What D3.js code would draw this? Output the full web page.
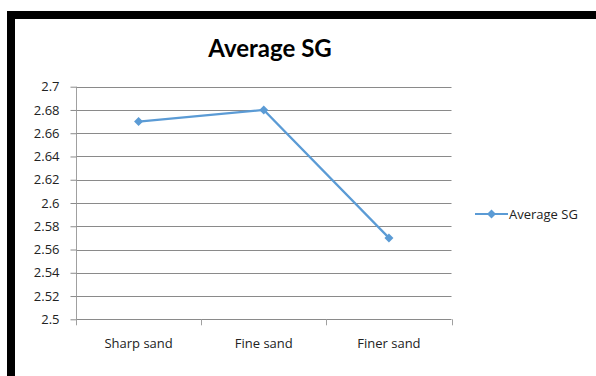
<!DOCTYPE html>
<html>
<head>
<meta charset="utf-8">
<script src="https://cdn.jsdelivr.net/npm/d3@7"></script>
<style>
  html, body { margin: 0; padding: 0; background: #fff; }
  svg { display: block; }
  text { font-family: "Open Sans", Lato, sans-serif; }
</style>
</head>
<body>
<svg id="chart" width="596" height="376"></svg>
<script>
// Chart data
const categories = ["Sharp sand", "Fine sand", "Finer sand"];
const seriesName = "Average SG";
const values = [2.67, 2.68, 2.57];
const yTicks = [2.5, 2.52, 2.54, 2.56, 2.58, 2.6, 2.62, 2.64, 2.66, 2.68, 2.7];

const svg = d3.select("#chart");
const W = 596, H = 376;
const plot = { left: 76, right: 451.5, top: 86.7, bottom: 319.3 };
const blue = "#5b9bd5";
const gridColor = "#8a8a8a";
const labelFont = "13px";

// Black frame on top and left
svg.append("rect").attr("x", 7).attr("y", 11).attr("width", W - 7).attr("height", 8).attr("fill", "#000");
svg.append("rect").attr("x", 7).attr("y", 11).attr("width", 8).attr("height", H - 11).attr("fill", "#000");

const x = d3.scaleBand().domain(categories).range([plot.left, plot.right]);
const y = d3.scaleLinear().domain([2.5, 2.7]).range([plot.bottom, plot.top]);

// Horizontal gridlines
svg.append("g")
  .selectAll("line")
  .data(yTicks)
  .join("line")
  .attr("x1", plot.left)
  .attr("x2", plot.right)
  .attr("y1", d => Math.round(y(d)) + 0.5)
  .attr("y2", d => Math.round(y(d)) + 0.5)
  .attr("stroke", gridColor)
  .attr("stroke-width", 1);

// Y axis
svg.append("g")
  .attr("transform", `translate(${plot.left + 0.5},0)`)
  .call(d3.axisLeft(y).tickValues(yTicks).tickSize(6).tickFormat(d3.format("")))
  .call(g => g.select(".domain").attr("stroke", "#a0a0a0").attr("d", `M0,${plot.top}V${plot.bottom}`))
  .call(g => g.selectAll(".tick line").attr("stroke", gridColor))
  .call(g => g.selectAll(".tick text")
    .attr("x", -17)
    .attr("fill", "#222")
    .style("font-size", labelFont)
    .style("font-family", "'Open Sans', Lato, sans-serif"));

// X axis
svg.append("g")
  .attr("transform", `translate(0,${Math.round(plot.bottom) + 0.5})`)
  .call(d3.axisBottom(x).tickSize(0).tickPadding(19))
  .call(g => g.select(".domain").remove())
  .call(g => g.selectAll(".tick text")
    .attr("fill", "#222")
    .style("font-size", labelFont)
    .style("font-family", "'Open Sans', Lato, sans-serif"));

// Category separator ticks
const edges = categories.map(c => x(c)).concat([x(categories[categories.length - 1]) + x.bandwidth()]);
svg.append("g")
  .selectAll("line")
  .data(edges)
  .join("line")
  .attr("x1", d => Math.round(d) + 0.5)
  .attr("x2", d => Math.round(d) + 0.5)
  .attr("y1", plot.bottom)
  .attr("y2", plot.bottom + 6)
  .attr("stroke", "#a0a0a0");

// Series line
const pts = categories.map((c, i) => [x(c) + x.bandwidth() / 2, y(values[i])]);
svg.append("path")
  .attr("d", d3.line()(pts))
  .attr("fill", "none")
  .attr("stroke", blue)
  .attr("stroke-width", 2.2);

// Diamond marker, 9px wide and tall
const diamond = "M0,-4.5L4.5,0L0,4.5L-4.5,0Z";
svg.append("g")
  .selectAll("path")
  .data(pts)
  .join("path")
  .attr("d", diamond)
  .attr("transform", d => `translate(${d[0]},${d[1]})`)
  .attr("fill", blue);

// Title
svg.append("text")
  .attr("x", 270)
  .attr("y", 57)
  .attr("text-anchor", "middle")
  .attr("fill", "#000")
  .style("font-family", "Lato, 'Open Sans', sans-serif")
  .style("font-size", "24px")
  .style("font-weight", "bold")
  .text(seriesName);

// Legend
const lg = svg.append("g").attr("transform", "translate(475,214)");
lg.append("line").attr("x1", 0).attr("x2", 33).attr("y1", 0).attr("y2", 0)
  .attr("stroke", blue).attr("stroke-width", 2.2);
lg.append("path").attr("d", diamond).attr("transform", "translate(16.5,0)").attr("fill", blue);
lg.append("text")
  .attr("x", 34)
  .attr("y", 4.5)
  .attr("fill", "#222")
  .style("font-size", labelFont)
  .text(seriesName);
</script>
</body>
</html>
